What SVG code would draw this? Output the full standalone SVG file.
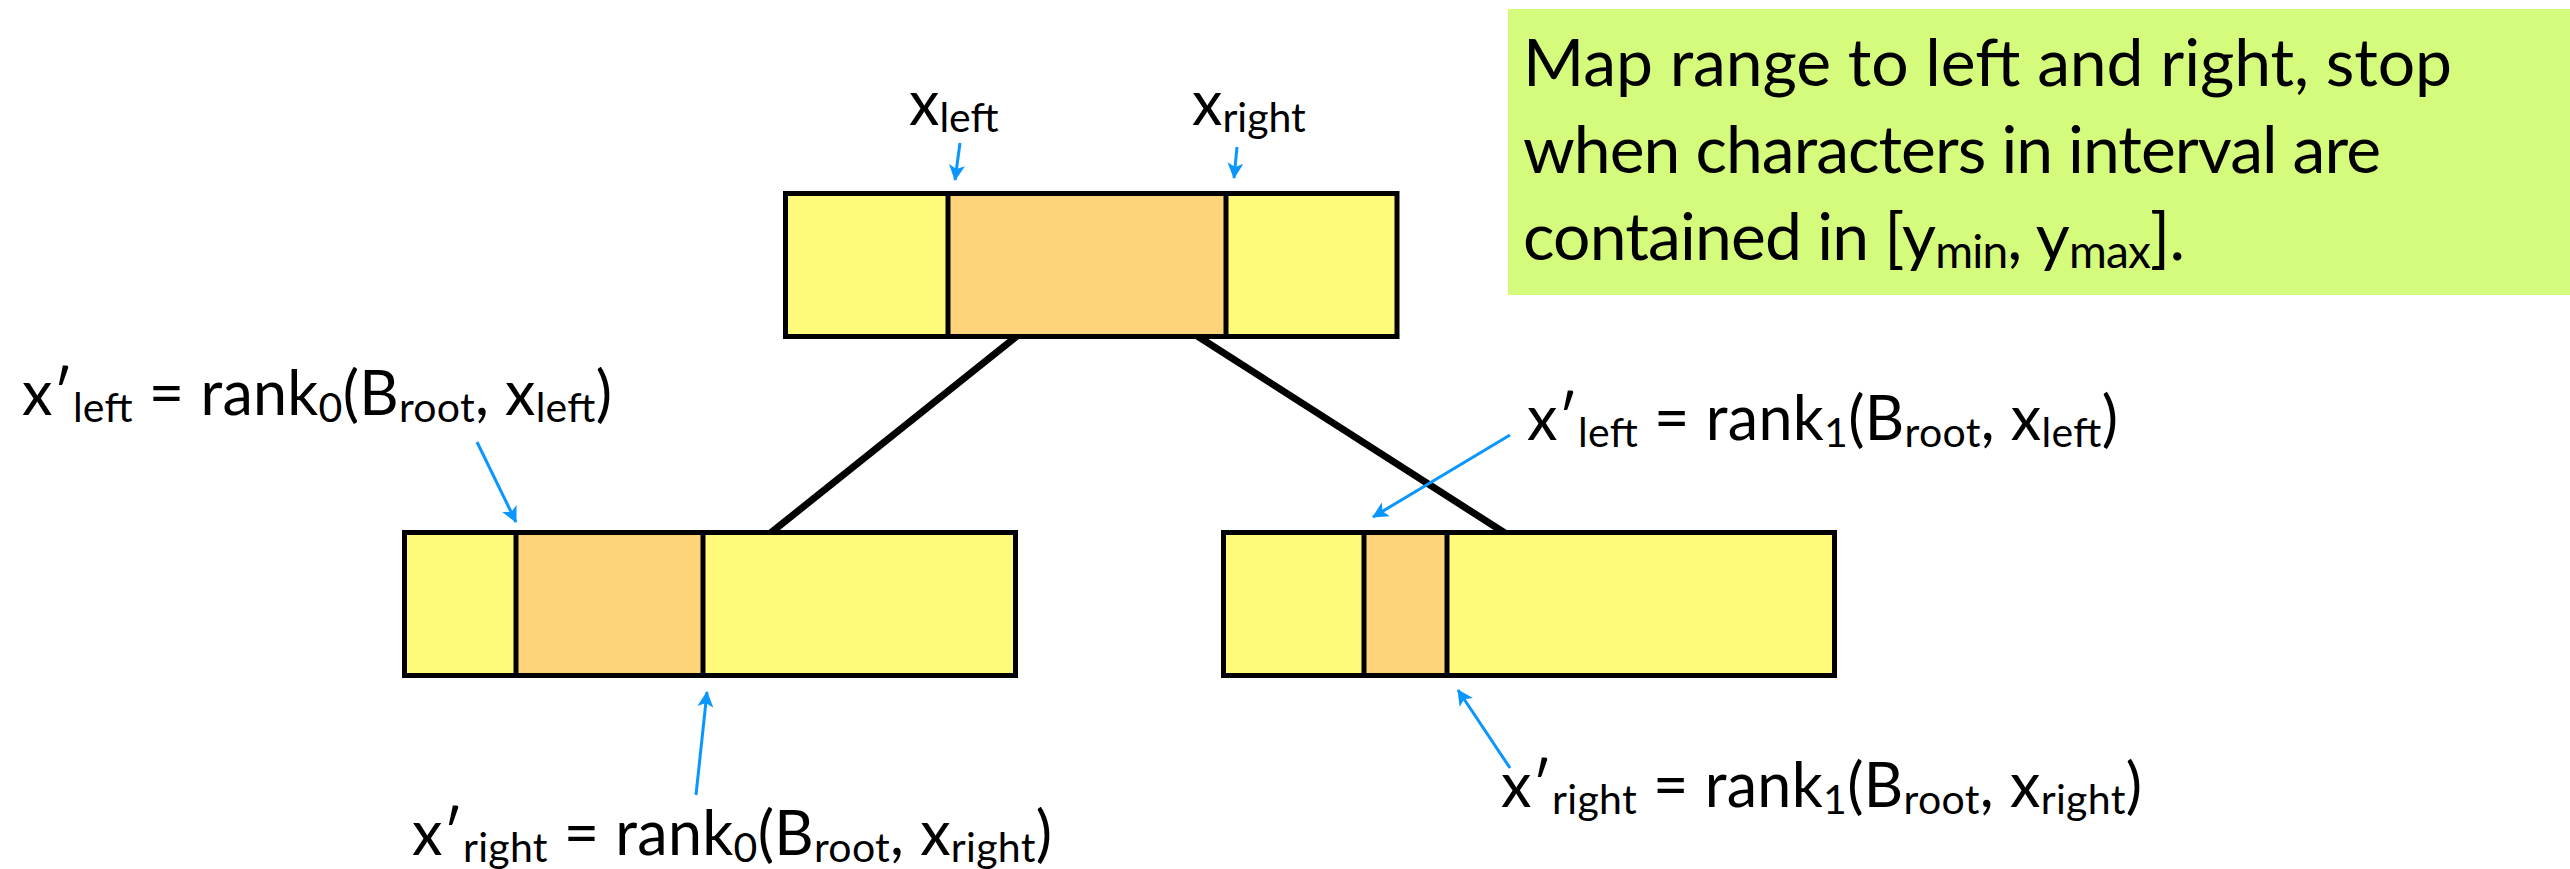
<svg xmlns="http://www.w3.org/2000/svg" width="2570" height="869" viewBox="0 0 2570 869">
<style>
.y{fill:#fffa7a}
.o{fill:#fed47a}
.div{stroke:#000;stroke-width:5}
.frame{fill:none;stroke:#000;stroke-width:5}
.edge{stroke:#000;stroke-width:7;fill:none}
.ptr{stroke:#0a96ff;stroke-width:3;fill:none;marker-end:url(#ah)}
.t{font-family:Lato,"Open Sans",sans-serif;font-size:61px;fill:#000}
.s{font-size:41px}
.note{font-family:Lato,"Open Sans",sans-serif;font-size:66px;fill:#000}
.ns{font-size:46px}
</style>
<defs>
<marker id="ah" viewBox="0 0 16 16" refX="15" refY="8" markerWidth="16" markerHeight="16" markerUnits="userSpaceOnUse" orient="auto">
<path d="M0,0 L16,8 L0,16 L4,8 z" fill="#0a96ff"/>
</marker>
</defs>
<rect width="2570" height="869" fill="#fff"/>

<g id="connectors">
<line class="edge" x1="1022" y1="332" x2="768" y2="535"/>
<line class="edge" x1="1191" y1="332" x2="1508" y2="535"/>
</g>

<g id="node-root">
<rect class="y" x="785.5" y="193.5" width="162.5" height="143"/>
<rect class="o" x="948" y="193.5" width="278" height="143"/>
<rect class="y" x="1226" y="193.5" width="171" height="143"/>
<line class="div" x1="948" y1="193.5" x2="948" y2="336.5"/>
<line class="div" x1="1226" y1="193.5" x2="1226" y2="336.5"/>
<rect class="frame" x="785.5" y="193.5" width="611.5" height="143"/>
</g>

<g id="node-left">
<rect class="y" x="404.5" y="532.5" width="111.5" height="143"/>
<rect class="o" x="516" y="532.5" width="187" height="143"/>
<rect class="y" x="703" y="532.5" width="312.5" height="143"/>
<line class="div" x1="516" y1="532.5" x2="516" y2="675.5"/>
<line class="div" x1="703" y1="532.5" x2="703" y2="675.5"/>
<rect class="frame" x="404.5" y="532.5" width="611" height="143"/>
</g>

<g id="node-right">
<rect class="y" x="1223.5" y="532.5" width="140.5" height="143"/>
<rect class="o" x="1364" y="532.5" width="83" height="143"/>
<rect class="y" x="1447" y="532.5" width="387.5" height="143"/>
<line class="div" x1="1364" y1="532.5" x2="1364" y2="675.5"/>
<line class="div" x1="1447" y1="532.5" x2="1447" y2="675.5"/>
<rect class="frame" x="1223.5" y="532.5" width="611" height="143"/>
</g>

<g id="note">
<rect x="1508" y="9" width="1062" height="286" fill="#d5fb7c"/>
<text class="note" x="1523" y="86" textLength="929">Map range to left and right, stop</text>
<text class="note" x="1523" y="173" textLength="858">when characters in interval are</text>
<text class="note" x="1523" y="260" textLength="662">contained in [y<tspan class="ns" dy="8">min</tspan><tspan dy="-8">, y</tspan><tspan class="ns" dy="8">max</tspan><tspan dy="-8">].</tspan></text>
</g>

<g id="label-xleft">
<text class="t" x="909" y="125">x<tspan class="s" dy="7">left</tspan></text>
<line class="ptr" x1="960" y1="143" x2="955" y2="180"/>
</g>
<g id="label-xright">
<text class="t" x="1192" y="125">x<tspan class="s" dy="7">right</tspan></text>
<line class="ptr" x1="1237" y1="147" x2="1234" y2="178"/>
</g>

<g id="label-left-xleft">
<text class="t" x="22" y="415" textLength="590">x′<tspan class="s" dy="7">left</tspan><tspan dy="-7"> = rank</tspan><tspan class="s" dy="7">0</tspan><tspan dy="-7">(B</tspan><tspan class="s" dy="7">root</tspan><tspan dy="-7">, x</tspan><tspan class="s" dy="7">left</tspan><tspan dy="-7">)</tspan></text>
<line class="ptr" x1="477" y1="442" x2="516" y2="522"/>
</g>
<g id="label-left-xright">
<text class="t" x="412" y="855" textLength="640">x′<tspan class="s" dy="7">right</tspan><tspan dy="-7"> = rank</tspan><tspan class="s" dy="7">0</tspan><tspan dy="-7">(B</tspan><tspan class="s" dy="7">root</tspan><tspan dy="-7">, x</tspan><tspan class="s" dy="7">right</tspan><tspan dy="-7">)</tspan></text>
<line class="ptr" x1="696" y1="795" x2="707" y2="692"/>
</g>
<g id="label-right-xleft">
<text class="t" x="1527" y="440" textLength="591">x′<tspan class="s" dy="7">left</tspan><tspan dy="-7"> = rank</tspan><tspan class="s" dy="7">1</tspan><tspan dy="-7">(B</tspan><tspan class="s" dy="7">root</tspan><tspan dy="-7">, x</tspan><tspan class="s" dy="7">left</tspan><tspan dy="-7">)</tspan></text>
<line class="ptr" x1="1510" y1="435" x2="1373" y2="517"/>
</g>
<g id="label-right-xright">
<text class="t" x="1501" y="807" textLength="641">x′<tspan class="s" dy="7">right</tspan><tspan dy="-7"> = rank</tspan><tspan class="s" dy="7">1</tspan><tspan dy="-7">(B</tspan><tspan class="s" dy="7">root</tspan><tspan dy="-7">, x</tspan><tspan class="s" dy="7">right</tspan><tspan dy="-7">)</tspan></text>
<line class="ptr" x1="1510" y1="768" x2="1458" y2="690"/>
</g>
</svg>
